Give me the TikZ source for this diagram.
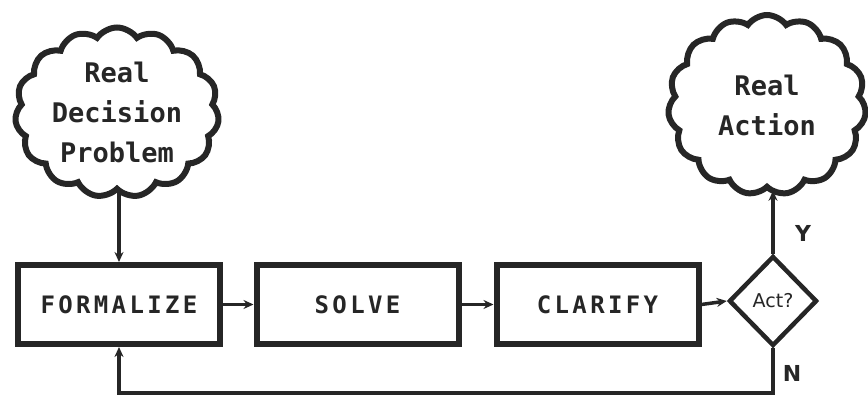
\documentclass[tikz,border=0pt]{standalone}
\usepackage{fontspec}
\setmonofont{DejaVu Sans Mono}
\newfontfamily\boxfont[LetterSpace=14]{DejaVu Sans Mono}
\newfontfamily\lblfont{DejaVu Sans}
\usetikzlibrary{shapes.symbols,shapes.geometric,arrows.meta}
\definecolor{ink}{HTML}{262626}
\tikzset{
  cloudnode/.style={cloud, cloud puffs=15, cloud puff arc=110, cloud ignores aspect,
    draw=ink, line width=6pt, inner sep=0pt, align=center, text=ink,
    font=\ttfamily\bfseries\fontsize{27}{40}\selectfont},
  procbox/.style={draw=ink, line width=6pt, minimum width=202pt, minimum height=79pt,
    inner sep=0pt, text=ink, font=\boxfont\bfseries\fontsize{24}{26}\selectfont},
  decision/.style={diamond, draw=ink, line width=4.5pt, minimum width=88pt, minimum height=90pt,
    inner sep=0pt, text=ink, font=\lblfont\fontsize{19}{22}\selectfont},
  flow/.style={draw=ink, line width=3.5pt, -{Stealth[length=10pt,width=9pt]}},
  yn/.style={text=ink, font=\lblfont\bfseries\fontsize{22}{24}\selectfont, inner sep=0pt}
}
\begin{document}
\begin{tikzpicture}[x=1pt,y=1pt]
\useasboundingbox (0,0) rectangle (868,403);
\node[cloudnode, minimum width=204pt, minimum height=170pt] (c1) at (117,290.5)
  {Real\\Decision\\Problem};
\node[cloudnode, minimum width=198pt, minimum height=180pt] (c2) at (767,298)
  {Real\\Action};
\node[procbox] (formalize) at (119,98.5) {FORMALIZE};
\node[procbox] (solve) at (357.5,98.5) {SOLVE};
\node[procbox] (clarify) at (597.5,98.5) {CLARIFY};
\node[decision] (act) at (773,102) {Act?};
\node[yn] (ylbl) at (803,170) {Y};
\node[yn] (nlbl) at (792,30) {N};
\coordinate (bl) at (119,10);
\draw[flow] (formalize.north |- c1.south) -- (formalize.north);
\draw[flow] (formalize.east) -- (solve.west);
\draw[flow] (solve.east) -- (clarify.west);
\draw[flow] (clarify.east) -- (act.west);
\draw[flow] (act.north) -- (act.north |- c2.south);
\draw[flow] (act.south) |- (bl) -- (formalize.south);
\end{tikzpicture}
\end{document}
